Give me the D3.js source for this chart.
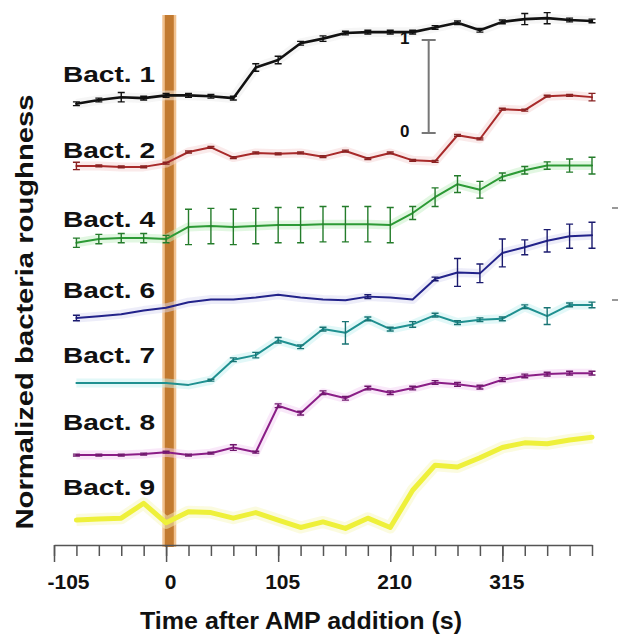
<!DOCTYPE html>
<html>
<head>
<meta charset="utf-8">
<script src="https://cdn.jsdelivr.net/npm/d3@7"></script>
<style>
  body { margin: 0; background: #fff; }
  text { font-family: "Liberation Sans", Arial, Helvetica, sans-serif; font-weight: bold; fill: #111; }
</style>
</head>
<body>
<svg id="chart" width="620" height="637"></svg>
<script>
// ==========================
// DATA
// ==========================
const times = [-84, -63, -42, -21, 0, 21, 42, 63, 84, 105, 126, 147, 168, 189, 210, 231, 252, 273, 294, 315, 336, 357, 378, 399];
const names = ["Bact. 1", "Bact. 2", "Bact. 4", "Bact. 6", "Bact. 7", "Bact. 8", "Bact. 9"];
// vertical offset of each trace (in normalized units)
const offsets = [4.806, 4.097, 3.301, 2.462, 1.763, 0.989, 0.290];

const bact1 = [-0.04, 0, 0.03, 0.02, 0.05, 0.05, 0.04, 0.02, 0.35, 0.43, 0.61, 0.66, 0.72, 0.73, 0.73, 0.73, 0.78, 0.83, 0.75, 0.84, 0.87, 0.88, 0.86, 0.85];
const bact2 = [0, 0, -0.01, -0.01, 0.03, 0.15, 0.20, 0.09, 0.14, 0.13, 0.14, 0.10, 0.16, 0.08, 0.14, 0.06, 0.05, 0.33, 0.29, 0.61, 0.60, 0.75, 0.76, 0.74];
const bact4 = [-0.03, 0.01, 0.02, 0.02, 0.01, 0.14, 0.15, 0.14, 0.15, 0.16, 0.16, 0.17, 0.17, 0.17, 0.16, 0.29, 0.46, 0.60, 0.54, 0.68, 0.75, 0.80, 0.80, 0.80];
const bact6 = [0, 0.02, 0.04, 0.08, 0.11, 0.17, 0.20, 0.20, 0.22, 0.25, 0.22, 0.20, 0.19, 0.23, 0.22, 0.20, 0.42, 0.49, 0.48, 0.70, 0.76, 0.83, 0.88, 0.89];
const bact7 = [0, 0, 0, 0, 0, -0.02, 0.03, 0.25, 0.30, 0.46, 0.39, 0.58, 0.54, 0.69, 0.58, 0.63, 0.73, 0.65, 0.68, 0.69, 0.82, 0.72, 0.84, 0.84];
const bact8 = [0, 0, 0, 0.01, 0.03, 0, 0.02, 0.08, 0.03, 0.53, 0.45, 0.67, 0.61, 0.72, 0.67, 0.72, 0.78, 0.76, 0.73, 0.81, 0.85, 0.87, 0.88, 0.88];
const bact9 = [0, 0.01, 0.02, 0.18, -0.03, 0.09, 0.08, 0.02, 0.08, 0.00, -0.08, -0.02, -0.09, 0.02, -0.08, 0.32, 0.59, 0.57, 0.67, 0.78, 0.83, 0.82, 0.86, 0.89];

// error bars (half height, normalized units)
const err1 = [0.02, 0.02, 0.05, 0.02, 0.02, 0.02, 0.02, 0.02, 0.04, 0.04, 0.02, 0.03, 0.02, 0.02, 0.02, 0.02, 0.02, 0.02, 0.02, 0.02, 0.06, 0.06, 0.02, 0.02];
const err2 = [0.04, 0.01, 0.01, 0.01, 0.01, 0.01, 0.01, 0.01, 0.01, 0.01, 0.01, 0.01, 0.01, 0.01, 0.01, 0.01, 0.01, 0.01, 0.01, 0.01, 0.01, 0.01, 0.01, 0.04];
const err4 = [0.05, 0.05, 0.05, 0.05, 0.04, 0.19, 0.19, 0.19, 0.19, 0.19, 0.19, 0.19, 0.19, 0.19, 0.19, 0.07, 0.10, 0.09, 0.09, 0.04, 0.04, 0.04, 0.07, 0.09];
const err6 = [0.03, 0, 0, 0, 0, 0, 0, 0, 0, 0, 0, 0, 0, 0.02, 0, 0, 0.02, 0.15, 0.10, 0.15, 0.08, 0.12, 0.13, 0.14];
const err7 = [0, 0, 0, 0, 0, 0, 0.01, 0.02, 0.03, 0.03, 0.02, 0.02, 0.12, 0.02, 0.02, 0.03, 0.02, 0.02, 0.02, 0.02, 0.02, 0.09, 0.02, 0.03];
const err8 = [0.01, 0.01, 0.01, 0.01, 0.01, 0.01, 0.01, 0.03, 0.01, 0.02, 0.02, 0.02, 0.02, 0.02, 0.02, 0.02, 0.02, 0.02, 0.02, 0.02, 0.02, 0.02, 0.02, 0.02];
const err9 = [0, 0, 0, 0, 0, 0, 0, 0, 0, 0, 0, 0, 0, 0, 0, 0, 0, 0, 0, 0, 0, 0, 0, 0];

const majorTicks = [-105, 0, 105, 210, 315];
const minorTicks = [-105, -84, -63, -42, -21, 0, 21, 42, 63, 84, 105, 126, 147, 168, 189, 210, 231, 252, 273, 294, 315, 336, 357, 378, 399];
const ampTime = 3;            // AMP addition marker
const scaleBar = { t: 246, from: 4.452, to: 5.452, labels: ["0", "1"] };

// ==========================
// LAYOUT / STYLE
// ==========================
const colors = ["#111111", "#a82a2a", "#2c9a35", "#22228a", "#1f9090", "#8a1d86", "#eef03a"];
const widths = [2.6, 2, 2, 2, 2, 2, 5];
const glows = ["#eeeeee", "#f6d6d6", "#c6f0c6", "#dcdcf4", "#c6f2f2", "#f4d2f4", "#f8f8c0"];
const labelLift = [18, 8, 13, 20, 20, 25, 25];

const svg = d3.select("#chart");
const x = d3.scaleLinear().domain([-105, 399]).range([54, 592]);
const y = d3.scaleLinear().domain([0, 5.72]).range([547, 15]);

const values = [bact1, bact2, bact4, bact6, bact7, bact8, bact9];
const errors = [err1, err2, err4, err6, err7, err8, err9];

const series = names.map((name, i) => ({
    name: name,
    color: colors[i],
    offset: offsets[i],
    points: times.map((t, k) => ({ t: t, v: values[i][k], e: errors[i][k] }))
}));

// AMP addition bar
svg.append("rect")
    .attr("x", x(ampTime) - 7).attr("y", y(5.72))
    .attr("width", 14).attr("height", y(0) - y(5.72))
    .attr("fill", "#eeb374").attr("opacity", 0.8);
svg.append("rect")
    .attr("x", x(ampTime) - 4.5).attr("y", y(5.72))
    .attr("width", 9).attr("height", y(0) - y(5.72))
    .attr("fill", "#c27a30");

series.forEach((s, i) => {
    const g = svg.append("g").attr("class", "trace");
    const lineGen = d3.line().x(d => x(d.t)).y(d => y(s.offset + d.v));

    // soft halo
    g.append("path")
        .datum(s.points)
        .attr("d", lineGen)
        .attr("fill", "none")
        .attr("stroke", glows[i])
        .attr("stroke-width", widths[i] + 7)
        .attr("stroke-linejoin", "round")
        .attr("opacity", 0.5);

    g.append("path")
        .datum(s.points)
        .attr("d", lineGen)
        .attr("fill", "none")
        .attr("stroke", s.color)
        .attr("stroke-width", widths[i])
        .attr("stroke-linejoin", "round")
        .attr("stroke-linecap", "round");

    g.selectAll(".err")
        .data(s.points.filter(d => d.e > 0))
        .enter().append("path")
        .attr("class", "err")
        .attr("d", d => {
            const cx = x(d.t), y1 = y(s.offset + d.v - d.e), y2 = y(s.offset + d.v + d.e);
            return `M${cx},${y1}V${y2}M${cx - 3.5},${y1}H${cx + 3.5}M${cx - 3.5},${y2}H${cx + 3.5}`;
        })
        .attr("fill", "none")
        .attr("stroke", i === 0 ? "#111" : d3.color(s.color).darker(0.6))
        .attr("stroke-width", 1.4);

    svg.append("text")
        .attr("x", 63)
        .attr("y", y(s.offset) - labelLift[i])
        .attr("font-size", 22)
        .attr("textLength", 92)
        .attr("lengthAdjust", "spacingAndGlyphs")
        .text(s.name);
});

// scale bar
const sb = svg.append("g");
sb.append("path")
    .attr("d", `M${x(scaleBar.t)},${y(scaleBar.from)}V${y(scaleBar.to)}` +
        `M${x(scaleBar.t) - 7},${y(scaleBar.from)}H${x(scaleBar.t) + 7}` +
        `M${x(scaleBar.t) - 7},${y(scaleBar.to)}H${x(scaleBar.t) + 7}`)
    .attr("stroke", "#777").attr("stroke-width", 2).attr("fill", "none");
sb.selectAll("text")
    .data([scaleBar.from, scaleBar.to])
    .enter().append("text")
    .attr("x", x(scaleBar.t) - 24)
    .attr("y", d => y(d) + 4)
    .attr("text-anchor", "middle")
    .attr("font-size", 17)
    .text((d, i) => scaleBar.labels[i]);

// x axis
const axisY = 545;
svg.append("g")
    .attr("transform", `translate(0,${axisY})`)
    .call(d3.axisBottom(x).tickValues(minorTicks).tickSize(11).tickSizeOuter(0).tickFormat(""));
const majorAxis = svg.append("g")
    .attr("transform", `translate(0,${axisY})`)
    .call(d3.axisBottom(x).tickValues(majorTicks).tickSize(17).tickSizeOuter(0).tickPadding(12).tickFormat(d => String(d)));
majorAxis.select(".domain").remove();
svg.selectAll(".tick line, .domain").attr("stroke", "#555").attr("stroke-width", 1.5);
majorAxis.selectAll(".tick text")
    .attr("font-size", 21)
    .attr("font-family", "Liberation Sans, Arial, sans-serif")
    .attr("font-weight", "bold")
    .attr("fill", "#111")
    .attr("dx", d => d < 0 ? 14 : 4);

// axis titles
svg.append("text")
    .attr("x", 301).attr("y", 629)
    .attr("text-anchor", "middle")
    .attr("font-size", 23)
    .attr("textLength", 322)
    .attr("lengthAdjust", "spacingAndGlyphs")
    .text("Time after AMP addition (s)");

svg.append("text")
    .attr("transform", "translate(33,312) rotate(-90)")
    .attr("text-anchor", "middle")
    .attr("font-size", 24)
    .attr("textLength", 435)
    .attr("lengthAdjust", "spacingAndGlyphs")
    .text("Normalized bacteria roughness");

// stray marks at the right edge
svg.selectAll(".edge")
    .data([208, 300])
    .enter().append("line")
    .attr("class", "edge")
    .attr("x1", 612).attr("x2", 618)
    .attr("y1", d => d).attr("y2", d => d)
    .attr("stroke", "#777").attr("stroke-width", 1.5);
</script>
</body>
</html>
